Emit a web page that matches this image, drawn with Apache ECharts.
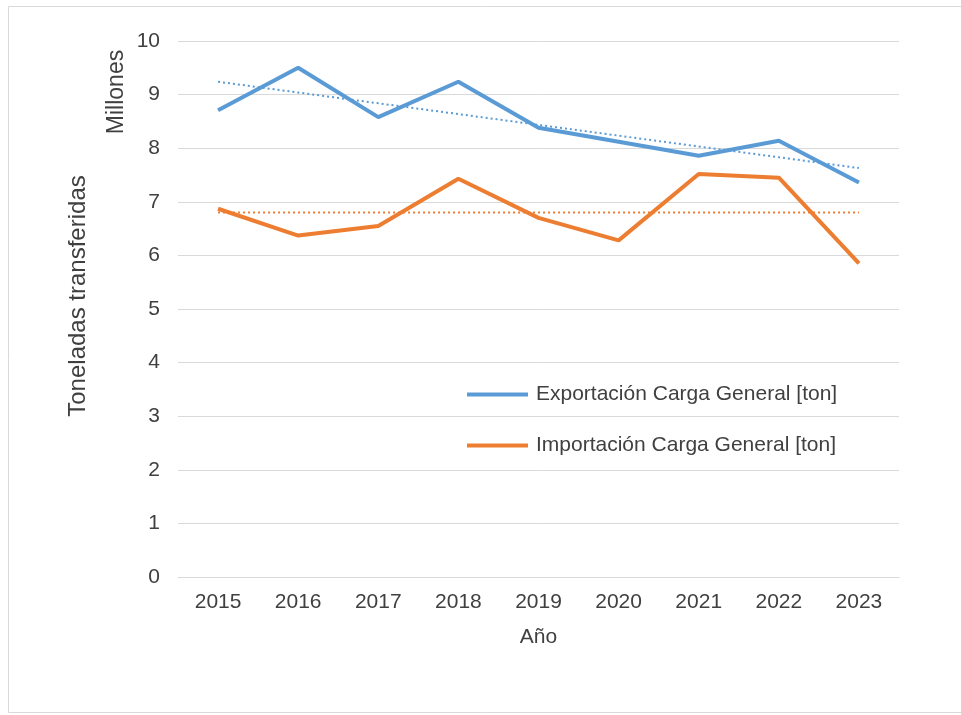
<!DOCTYPE html>
<html>
<head>
<meta charset="utf-8">
<script src="https://cdn.jsdelivr.net/npm/echarts@6/dist/echarts.min.js"></script>
<style>
html,body{margin:0;padding:0;background:#fff;}
#chart{width:961px;height:715px;}
</style>
</head>
<body>
<div id="chart"></div>
<script>
var years = ['2015','2016','2017','2018','2019','2020','2021','2022','2023'];
var exportacion = [8.71, 9.50, 8.58, 9.24, 8.38, 8.12, 7.86, 8.14, 7.36];
var importacion = [6.87, 6.37, 6.55, 7.43, 6.70, 6.28, 7.52, 7.45, 5.85];
var exportTrend = [['2015', 9.24], ['2023', 7.63]];
var importTrend = [['2015', 6.80], ['2023', 6.80]];
var yTicks = [0,1,2,3,4,5,6,7,8,9,10];
var seriesNames = ['Exportación Carga General [ton]', 'Importación Carga General [ton]'];

var blue = '#5B9BD5', orange = '#ED7D31';
var font = 'Liberation Sans, Arial, sans-serif';
var chart = echarts.init(document.getElementById('chart'), null, {renderer:'canvas'});
chart.setOption({
  animation: false,
  backgroundColor: '#fff',
  grid: {left: 178, right: 62, top: 41, bottom: 138, containLabel: false},
  xAxis: {
    type: 'category', data: years, boundaryGap: true,
    axisLine: {lineStyle: {color: '#d9d9d9', width: 1}},
    axisTick: {show: false},
    axisLabel: {color: '#404040', fontSize: 21, fontFamily: font, margin: 15},
    name: 'Año', nameLocation: 'middle', nameGap: 50,
    nameTextStyle: {color: '#404040', fontSize: 21, fontFamily: font}
  },
  yAxis: {
    type: 'value', min: yTicks[0], max: yTicks[yTicks.length-1], interval: 1,
    axisLine: {show: false}, axisTick: {show: false},
    axisLabel: {color: '#404040', fontSize: 21, fontFamily: font, margin: 18},
    splitLine: {lineStyle: {color: '#d9d9d9', width: 1}}
  },
  legend: {
    data: seriesNames, orient: 'vertical', left: 462, top: 379,
    itemWidth: 61, itemHeight: 4, itemGap: 30, icon: 'rect',
    textStyle: {color: '#404040', fontSize: 21, fontFamily: font, padding: [0,0,0,3]}
  },
  graphic: [
    {type: 'rect', shape: {x: 8.5, y: 6.5, width: 1000, height: 706}, style: {fill: 'none', stroke: '#d9d9d9', lineWidth: 1}, silent: true, z: -1},
    {type: 'text', x: 78, y: 296, rotation: Math.PI/2, style: {text: 'Toneladas transferidas', fill: '#404040', fontSize: 24, fontFamily: font, align: 'center', verticalAlign: 'middle'}},
    {type: 'text', x: 117, y: 92, rotation: Math.PI/2, style: {text: 'Millones', fill: '#404040', fontSize: 23, fontFamily: font, align: 'center', verticalAlign: 'middle'}}
  ],
  series: [
    {name: seriesNames[0], type: 'line', data: exportacion, symbol: 'none', color: blue, lineStyle: {color: blue, width: 4}, z: 3},
    {name: seriesNames[1], type: 'line', data: importacion, symbol: 'none', color: orange, lineStyle: {color: orange, width: 4}, z: 3},
    {name: 'trendExp', type: 'line', data: exportTrend, symbol: 'none', lineStyle: {color: blue, width: 2, type: [2,3]}, z: 2},
    {name: 'trendImp', type: 'line', data: importTrend, symbol: 'none', lineStyle: {color: orange, width: 2, type: [2,3]}, z: 2}
  ]
});
</script>
</body>
</html>
